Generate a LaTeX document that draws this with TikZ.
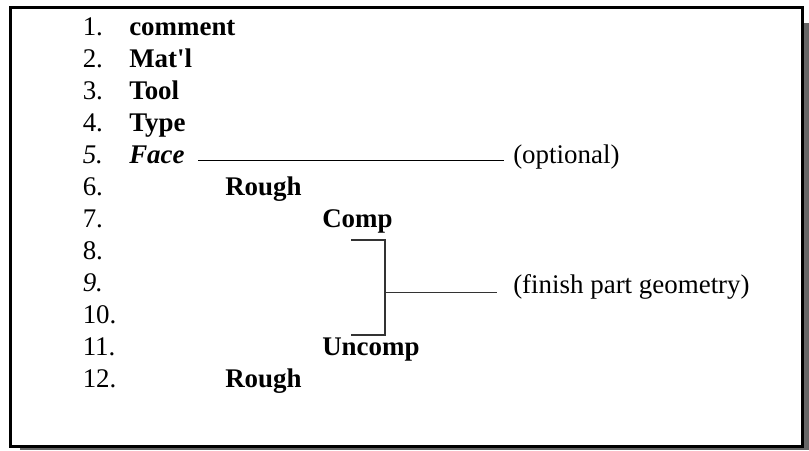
\documentclass[tikz,border=0pt]{standalone}
\usepackage{fontspec}
\setmainfont{Liberation Serif}
\newcommand{\txtsize}{\fontsize{20.2}{24}\selectfont}
\begin{document}
\begin{tikzpicture}[x=0.75pt,y=-0.75pt,
  txt/.style={anchor=base west, inner sep=0pt, font=\txtsize},
  num/.style={txt},
  key/.style={txt, font=\txtsize\bfseries},
  lead/.style={line width=1pt, black},
  brace/.style={line width=0.8pt, black!80}]
\useasboundingbox (0,0) rectangle (809,450);
% drop shadow and frame
\fill[black!60] (20,23) rectangle (809,450);
\draw[line width=2pt, fill=white] (10.7,7.3) rectangle (802.5,446.5);
% line numbers
\foreach \i in {1,2,3,4,6,7,8,10,11,12}
  \node[num] (n\i) at (82.5,{35+32*(\i-1)}) {\i.};
\node[num, font=\txtsize\itshape] (n5) at (82.5,163) {5.};
\node[num, font=\txtsize\itshape] (n9) at (82.5,291) {9.};
% block words
\node[key] (comment) at (129,35) {comment};
\node[key] (matl) at (129,67) {Mat\textquotesingle l};
\node[key] (tool) at (129,99) {Tool};
\node[key] (type) at (129,131) {Type};
\node[key, font=\txtsize\bfseries\itshape] (face) at (129,163) {Face};
\node[key] (rough1) at (225,195) {Rough};
\node[key] (comp) at (322,227) {Comp};
\node[key] (uncomp) at (322,355) {Uncomp};
\node[key] (rough2) at (225,387) {Rough};
% notes
\node[txt] (opt) at (513,163) {(optional)};
\node[txt] (fin) at (513,293) {(finish part geometry)};
% leader from Face to its note
\coordinate (fs) at (198,160.8);
\coordinate (fe) at (504,160.8);
\draw[lead] (fs) -- (fe);
% bracket over lines 8--10
\coordinate (bt) at (351,240);
\coordinate (bb) at (351,335);
\coordinate (bm) at (385,292.5);
\coordinate (be) at (497,292.5);
\draw[brace] (bt) -- (bm |- bt) -- (bm |- bb) -- (bb);
\draw[brace] (bm) -- (be);
\end{tikzpicture}
\end{document}
